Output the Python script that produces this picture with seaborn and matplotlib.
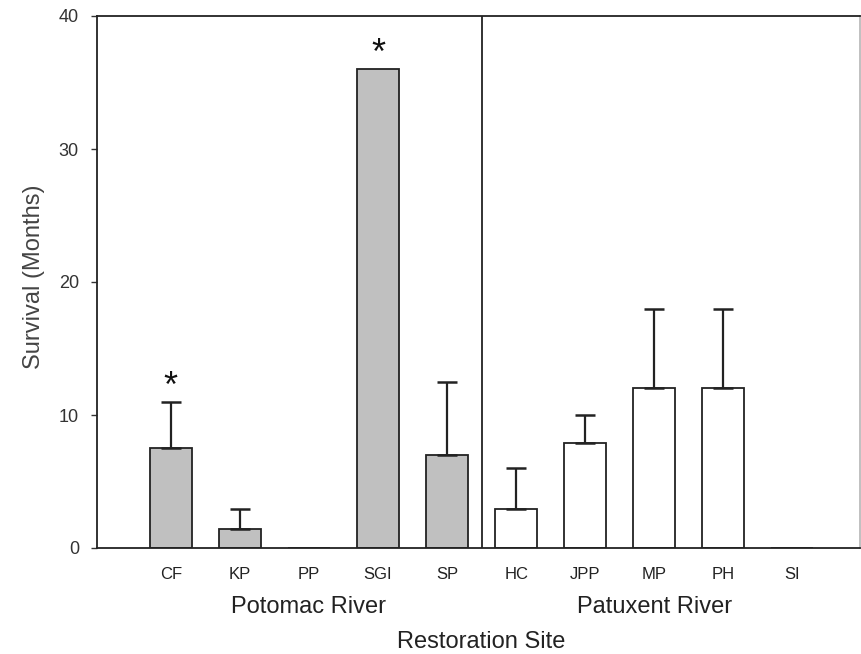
import matplotlib
matplotlib.use("Agg")
import matplotlib.pyplot as plt
import seaborn as sns
import pandas as pd
import numpy as np

sites = ["CF", "KP", "PP", "SGI", "SP", "HC", "JPP", "MP", "PH", "SI"]
rivers = ["Potomac River"] * 5 + ["Patuxent River"] * 5
survival = [7.5, 1.4, 0, 36, 7, 2.9, 7.9, 12, 12, 0]
err_upper = [3.5, 1.5, 0, 0, 5.5, 3.1, 2.1, 6, 6, 0]
significant = ["CF", "SGI"]
river_names = ["Potomac River", "Patuxent River"]
yticks = [0, 10, 20, 30, 40]

df = pd.DataFrame({"site": sites, "river": rivers, "survival": survival, "err": err_upper})

sns.set_style("ticks")
plt.rcParams["font.family"] = ["Liberation Sans", "DejaVu Sans"]

fig = plt.figure(figsize=(8.61, 6.54), dpi=100)
ax = fig.add_axes([97 / 861, 1 - 548 / 654, (860 - 97) / 861, (548 - 16) / 654])

sns.barplot(data=df, x="site", y="survival", hue="river", dodge=False,
            palette={"Potomac River": "#c0c0c0", "Patuxent River": "white"},
            edgecolor="#222222", linewidth=1.3, width=0.61, legend=False, ax=ax,
            errorbar=None)

x = np.arange(len(sites))
mask = df["err"].values > 0
ax.errorbar(x[mask], df["survival"].values[mask],
            yerr=[np.zeros(mask.sum()), df["err"].values[mask]],
            fmt="none", ecolor="#222222", elinewidth=1.6, capsize=7, capthick=1.8)

for s in significant:
    i = sites.index(s)
    top = survival[i] + err_upper[i]
    ax.text(i, top + 1.1, "*", ha="center", va="center", fontsize=26, color="#111111")

ax.axvline(4.5, color="#222222", lw=1.3)
ax.set_xlim(-1.07, 9.98)
ax.set_ylim(0, 40)
ax.set_yticks(yticks)
ax.tick_params(axis="y", direction="out", length=4, width=1, labelsize=13, pad=9,
               colors="#333333", labelcolor="#333333")
ax.tick_params(axis="x", length=0, labelsize=12, labelcolor="#222222", pad=14)
ax.set_xlabel("")
ax.set_ylabel("Survival (Months)", fontsize=17, color="#444444")
ax.yaxis.set_label_coords(-0.068, 0.51)
for sp in ax.spines.values():
    sp.set_color("#222222")
    sp.set_linewidth(1.3)
ax.spines["right"].set_color("#bbbbbb")

for j, rn in enumerate(river_names):
    idx = [i for i, r in enumerate(rivers) if r == rn]
    ax.text(np.mean(idx), -0.11, rn, transform=ax.get_xaxis_transform(),
            ha="center", va="center", fontsize=17, color="#222222")
ax.text(4.5, -0.177, "Restoration Site", transform=ax.get_xaxis_transform(),
        ha="center", va="center", fontsize=17, color="#222222")

fig.savefig("out.png", dpi=100)
